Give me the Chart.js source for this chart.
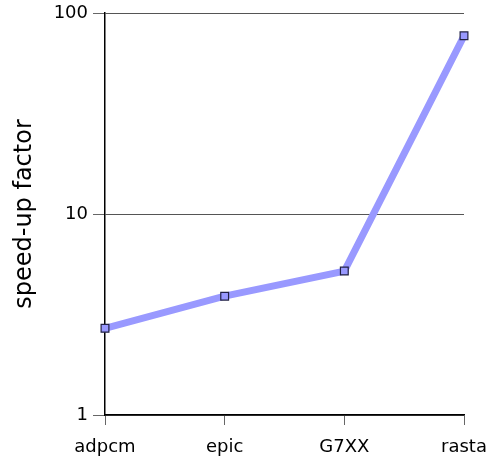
<!DOCTYPE html>
<html>
<head>
<meta charset="utf-8">
<script src="https://cdn.jsdelivr.net/npm/chart.js@4"></script>
<style>
  body { margin: 0; background: #fff; }
  #wrap { width: 492px; height: 460px; }
</style>
</head>
<body>
<div id="wrap"><canvas id="speedChart"></canvas></div>
<script>
// benchmark names and measured speed-up
const benchmarks = ["adpcm", "epic", "G7XX", "rasta"];
const speedUp = [2.7, 3.9, 5.2, 77];
const yTicks = [1, 10, 100];

Chart.defaults.font.family = "'DejaVu Sans', sans-serif";
Chart.defaults.color = "#000";

const ctx = document.getElementById("speedChart");
const speedChart = new Chart(ctx, {
  type: "line",
  data: {
    labels: benchmarks,
    datasets: [{
      data: speedUp,
      borderColor: "#9999ff",
      borderWidth: 7,
      pointStyle: "rect",
      pointRadius: 5.5,
      pointBackgroundColor: "#9999ff",
      pointBorderColor: "#222244",
      pointBorderWidth: 1.2,
      fill: false,
      tension: 0
    }]
  },
  options: {
    responsive: true,
    maintainAspectRatio: false,
    animation: false,
    layout: { padding: 0 },
    plugins: { legend: { display: false }, tooltip: { enabled: false } },
    scales: {
      x: {
        offset: false,
        afterFit: axis => { axis.height = 45; axis.paddingRight = 28; },
        grid: { drawOnChartArea: false, drawTicks: true, tickLength: 10, tickColor: "#666" },
        border: { color: "#000", width: 1.5 },
        ticks: { font: { size: 18 }, padding: 12, maxRotation: 0 }
      },
      y: {
        type: "logarithmic",
        min: 1,
        max: 100,
        afterFit: axis => { axis.width = 105; axis.paddingTop = 13; },
        afterBuildTicks: axis => { axis.ticks = yTicks.map(v => ({ value: v })); },
        grid: { color: "#555", tickLength: 12, tickColor: "#666" },
        border: { color: "#000", width: 1.5 },
        ticks: { font: { size: 18 }, padding: 5, callback: v => String(v) },
        title: { display: true, text: "speed-up factor", font: { size: 24 }, padding: { top: 10, bottom: 0 } }
      }
    }
  }
});
</script>
</body>
</html>
